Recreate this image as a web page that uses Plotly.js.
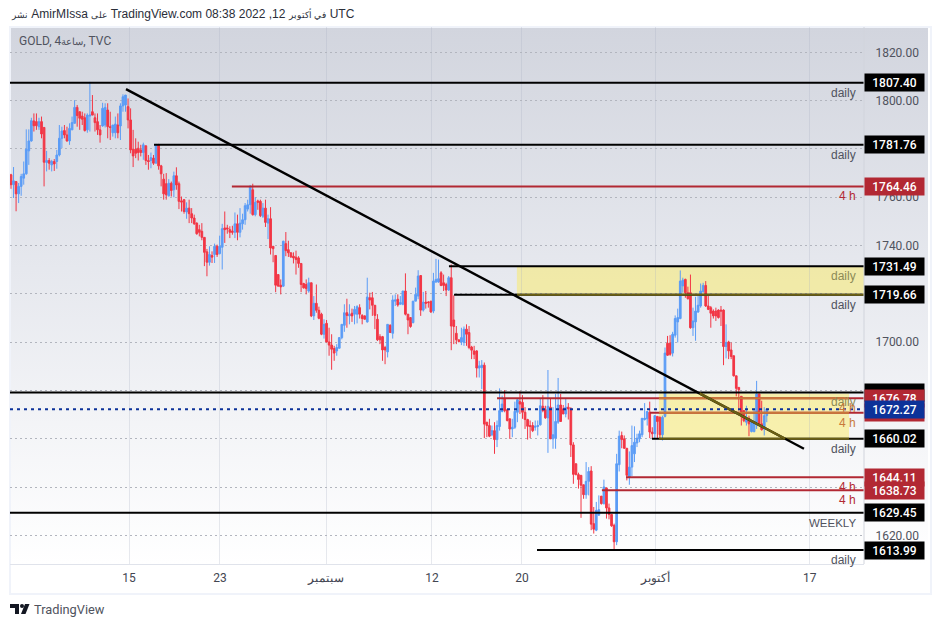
<!DOCTYPE html>
<html><head><meta charset="utf-8">
<script src="https://cdn.plot.ly/plotly-3.0.1.min.js"></script>
<style>
html,body{margin:0;padding:0;background:#fff;width:938px;height:627px;overflow:hidden}
#bg{position:absolute;left:9px;top:26px;width:919px;height:565px;border:2px solid #f0f3fa;box-sizing:content-box;background:linear-gradient(#fff,#fff)}
#grad{position:absolute;left:11px;top:28px;width:917px;height:536px;background:linear-gradient(#d2d5de 0%,#e6e8ee 45%,#ffffff 100%)}
#chart{position:absolute;left:0;top:0;width:938px;height:627px}
#logo{position:absolute;left:10px;top:604px}
</style></head><body>
<div id="bg"></div><div id="grad"></div><div id="chart"></div>
<svg id="logo" width="20" height="10" viewBox="0 0 20 10"><path d="M0 0h9v10h-4v-6h-5z" fill="#131722"/><circle cx="12" cy="2" r="2" fill="#131722"/><path d="M15 0h4.5l-4 10h-4.5z" fill="#131722"/></svg>
<script>
const opens=[1769.3,1765.2,1766.5,1761.4,1764.5,1767.9,1769.7,1779.2,1783.3,1791.6,
1791.3,1789.2,1791.3,1788.9,1774.4,1775.2,1773.4,1774.8,1774.8,1777.5,
1784.4,1787.6,1785.8,1783.3,1787.9,1790.6,1797.2,1795.4,1793.6,1792.9,
1787.9,1793.6,1795.4,1792.9,1791.3,1787.9,1789.5,1789.9,1796.1,1789.2,
1786.7,1786.7,1789.9,1789.5,1797.8,1798.2,1797.5,1792,1779.9,1779.9,
1780.3,1779.6,1778.5,1781.3,1775.2,1775.2,1776.2,1774.1,1781.7,1773,
1767.5,1765.6,1760.6,1765.8,1763.1,1768.9,1765.6,1758.5,1759,1753.9,
1755.5,1753.2,1751.4,1749.3,1746.6,1745.9,1743.4,1737.4,1733.1,1735.9,
1736.3,1739.7,1736.7,1739.3,1747.3,1747.3,1746.6,1746,1745.5,1749,
1745.5,1749,1750.7,1755.1,1756.9,1763.1,1752.8,1758.5,1758.3,1752.1,
1755.5,1749.3,1751.1,1739.7,1735.9,1728,1723.6,1723.2,1740.8,1738.3,
1737,1735.6,1735.2,1734.9,1732.6,1724.3,1723.9,1721.2,1724.6,1710.9,
1716.1,1713.2,1711.6,1703.3,1707.8,1700.1,1698.8,1697.4,1696.4,1697.5,
1701.9,1707,1712.2,1710.9,1712,1711.6,1711.6,1714.3,1711.1,1710.9,
1708.4,1718.4,1718.4,1715.3,1709.5,1702.3,1702.3,1697.8,1696,1707,
1703.7,1717,1717.8,1715.7,1715.7,1721.2,1711.6,1710.2,1708.1,1717,
1719.1,1727.6,1713.3,1716.6,1716.6,1717,1712.9,1724.9,1724.9,1728.7,
1724.6,1723.9,1721.6,1726.7,1709.2,1703.7,1701,1700.1,1699.9,1705.4,
1704,1698,1696.4,1696.4,1689.3,1689.5,1690.5,1666.9,1665.5,1661.7,
1663.4,1659.7,1665.1,1671.3,1676.5,1672,1668.3,1664.1,1664.8,1671,
1675.4,1675.1,1671,1668,1665.5,1665.5,1664.8,1665.1,1665.8,1673.5,
1672.1,1668.7,1673.1,1660,1660.3,1666.9,1674,1672.4,1670.3,1673.1,
1672.4,1657.5,1649.7,1645.2,1644.9,1641,1636.9,1642.4,1646.7,1624.9,
1622.2,1628.4,1636.3,1633.2,1639.7,1631.4,1628.7,1624.2,1617.4,1649.3,
1661.4,1660,1656.1,1644.2,1648.3,1653.8,1658.3,1660,1661.7,1668,
1668.3,1671,1662.8,1662.1,1669.3,1668.9,1661.7,1669.3,1699.6,1699.6,
1695.5,1702.9,1708.4,1709.8,1723.3,1726,1720.5,1720.5,1706,1708.4,
1712.5,1715,1720.9,1723.5,1715,1714.3,1712.9,1712.9,1713.3,1713.3,
1713.3,1698.2,1700.1,1696.8,1694.4,1686.1,1681.3,1677.6,1671.7,1666.9,
1668.5,1663,1663,1666.9,1678.6,1666.2,1664.1,1669.6];
const highs=[1769.7,1772.5,1766.5,1765.9,1769.7,1774.8,1788.1,1788.1,1792.9,1794.7,
1794.7,1792.9,1793.4,1788.9,1779.2,1776.2,1775.5,1775.8,1779.6,1789.9,
1789.2,1789.9,1789.2,1790.6,1793.4,1800.2,1798.2,1795.4,1795.4,1794.7,
1794.7,1807.8,1802.3,1794.7,1794.7,1789.9,1799.1,1798.9,1798.9,1795.4,
1789.9,1793.4,1794.7,1798.9,1802.6,1802.3,1800.9,1796.8,1787.9,1784.4,
1783,1781.7,1782.6,1781.3,1777.5,1778.5,1777.5,1782.1,1782.1,1773.4,
1769.7,1770,1767.5,1766.5,1770.6,1772.4,1766.5,1760.3,1759.2,1757.9,
1759,1755.5,1752.8,1749.6,1748.6,1749.3,1743.4,1738.6,1739.7,1737.6,
1740.8,1740.4,1744.1,1749,1754.1,1748.6,1748,1748.2,1753.7,1752.8,
1755.5,1753.2,1757.6,1759,1765.1,1765.6,1760,1759,1759,1757.6,
1759,1752.8,1755.9,1739.7,1735.9,1728,1726,1742,1745.6,1742,
1737.2,1737.2,1737.9,1735.6,1732.6,1724.6,1726,1726.7,1724.6,1719.1,
1723.9,1714.7,1712.2,1709.5,1709.2,1706,1703.3,1698.5,1699.2,1701.9,
1707.4,1715.7,1718,1715.7,1713.9,1715,1715.3,1715.7,1711.6,1711.1,
1726.7,1720.5,1720.8,1715.3,1711.6,1703.3,1702.6,1698.5,1707.4,1707.4,
1719.4,1719.8,1719.8,1719.1,1721.2,1728.5,1711.6,1710.2,1717,1722.6,
1729.8,1727.6,1720.8,1721.2,1717,1717,1728.7,1734.5,1734.2,1729.4,
1728,1724.6,1727.4,1732.2,1719.4,1706.7,1701,1706,1706.5,1707.4,
1706.7,1698.5,1698.5,1696.7,1692.3,1692.6,1691.6,1666.9,1668.3,1665.5,
1666.9,1667.6,1680.9,1677.9,1680.2,1672.4,1668.3,1668.3,1675.4,1676.5,
1679.7,1678.1,1673.1,1668.3,1667.6,1666.9,1667.6,1667.6,1676.5,1678.1,
1673.7,1688.5,1676.5,1673.1,1678.6,1685.2,1678.6,1674,1676.5,1674.8,
1673.1,1658.6,1649.7,1646,1644.9,1641,1650.4,1648.3,1648.7,1631.8,
1633.9,1636.6,1636.3,1643.1,1639.7,1633.2,1628.7,1624.9,1653.8,1663.4,
1663,1661.4,1656.1,1654.8,1665.5,1665.2,1662.1,1663.4,1668.5,1674.8,
1671.3,1675.4,1664.8,1669.6,1669.3,1669.3,1669.6,1697.8,1702.6,1702.9,
1704.3,1711.1,1713.9,1729.7,1726.7,1726.3,1723,1728,1714.3,1718.8,
1719.1,1724.3,1724.6,1725.3,1719.4,1715,1713.6,1714.3,1713.6,1715,
1713.6,1707.4,1700.6,1699.9,1694.4,1686.1,1681.3,1677.6,1671.7,1673.7,
1669.6,1667.5,1672.4,1684,1678.6,1675.8,1673.1,1672.6];
const lows=[1763.5,1759.7,1754.2,1757.6,1760.6,1765.2,1769.3,1773.4,1783,1787.2,
1787.9,1787.9,1784.4,1764.5,1770.7,1771.4,1770.7,1770.9,1771.8,1776.9,
1780.3,1784.4,1783,1781.7,1787.9,1790.6,1789.2,1787.9,1789.9,1787.2,
1786.7,1787.2,1794,1787.2,1785.8,1782.6,1789.2,1788.9,1784.4,1783.7,
1785.1,1784.4,1784.4,1783.7,1795.4,1795.4,1788.5,1778.2,1772.5,1776.2,
1775.2,1776.9,1775.5,1773.4,1771.4,1772,1773.4,1774.1,1771.4,1764.5,
1759,1759,1760.3,1760.3,1760,1763.1,1755.1,1754.1,1753.2,1751.1,
1749.3,1749.3,1748.6,1744.5,1743.8,1742.2,1731.5,1727.3,1731.7,1732.8,
1732.8,1735.3,1736.3,1730.1,1741.1,1744.9,1743.1,1744.5,1743.1,1742.2,
1743.4,1746.6,1748.6,1754.1,1753.2,1752.4,1752.1,1754.8,1751.8,1751.4,
1747.7,1742.7,1736.3,1733.1,1720.7,1723.2,1719.8,1722.9,1735.6,1735.3,
1734.9,1732.6,1728,1730.8,1720.7,1722.2,1719.8,1720.5,1710.4,1709.2,
1712.2,1709.5,1702.9,1701.5,1699.9,1694.4,1688.6,1692.3,1694.4,1697.5,
1701.2,1704.3,1706,1707.4,1708.4,1707.4,1707.8,1709.8,1707.4,1709.5,
1708.1,1713.6,1710.9,1705.4,1700.5,1699.2,1692.3,1690.9,1693.7,1704,
1701.5,1715,1714.7,1715.7,1715.3,1711.1,1703.3,1706,1707.8,1717,
1717.8,1710.9,1712.7,1713.9,1714.3,1712.2,1712,1724.6,1724.6,1723.2,
1721.2,1719.1,1721.2,1696.7,1699.2,1699.2,1699.9,1698.8,1698.5,1698.5,
1697.1,1693,1693,1685.4,1685.4,1680.6,1660.3,1660.7,1660.7,1661.1,
1653.8,1656.6,1663.4,1671,1671,1667.2,1660,1660.7,1664.1,1666.9,
1670.3,1668.3,1664.1,1659.7,1660.3,1662.8,1663.4,1661.4,1665.5,1671,
1668.3,1654.2,1660,1655.9,1655.9,1666.2,1667.2,1670.3,1668.9,1668,
1652.5,1641.4,1644.9,1639.4,1627.3,1635.2,1635.2,1636.6,1622.2,1620.8,
1621.8,1628.4,1632.8,1632.8,1627,1626.7,1623.6,1614,1616,1646.5,
1656.1,1655.9,1642.8,1641,1644.6,1650.4,1656.6,1658.6,1660.7,1667.6,
1665.5,1660.3,1660.3,1660.3,1660.3,1659.7,1659.3,1668.9,1694.4,1694.4,
1694.1,1701.9,1699.9,1709.5,1720.5,1718.4,1717.7,1705.6,1702.6,1700.6,
1712.2,1714.3,1720.5,1714.6,1713.3,1706,1709.8,1708.8,1709.8,1706.7,
1690.5,1693.3,1693,1693,1685.8,1677.6,1671.7,1665.5,1666.9,1665.5,
1661.1,1662.7,1662.7,1664.1,1665.5,1663.4,1661.4,1666.9];
const closes=[1765.2,1766.8,1761.4,1764.5,1768.6,1769.7,1779.9,1783.3,1791.7,1789.6,
1789.6,1791.3,1786.2,1774.5,1775.2,1774.1,1774.8,1773.8,1777.5,1784.4,
1787.4,1785.8,1783.3,1788.5,1790.9,1797.2,1793.8,1792.7,1792.3,1787.6,
1794,1794,1794,1790.9,1787.9,1785.8,1796.8,1797.2,1789.2,1788.9,
1789.9,1790.3,1786.7,1797.8,1801.6,1802.3,1792,1779.6,1777.1,1778.2,
1778.5,1778.5,1781.7,1775.2,1774.8,1776.4,1774.1,1781.7,1773,1769.7,
1761.4,1761,1765.8,1762.8,1768.9,1765.1,1758.3,1758,1754.1,1755.5,
1753.2,1751.4,1749,1744.9,1745.5,1743.4,1737.2,1733.1,1736.3,1735.2,
1739.7,1736.3,1739.7,1747,1746.6,1746.9,1745.5,1745.5,1749,1745.5,
1749.3,1750.7,1756.5,1756.9,1764.5,1752.8,1757.9,1757.9,1752.4,1755.5,
1749.6,1751.1,1739,1738.7,1723.6,1723.2,1722.9,1741.8,1737.9,1737,
1735.3,1734.9,1734.2,1732.6,1723.9,1722.5,1722.2,1724.6,1710.9,1716.1,
1713.2,1709.9,1703.3,1707.4,1700.1,1698.8,1697.1,1695.5,1697.8,1701.9,
1707.4,1712.2,1711.1,1711.6,1710.9,1713.6,1714.7,1711.6,1709.8,1709.5,
1718.7,1717.5,1715.3,1711.1,1701,1701,1696.8,1696.8,1707.4,1704,
1717.5,1717.5,1715.4,1716.4,1721.2,1711.6,1709.2,1706.5,1717,1719.8,
1727.4,1713.3,1716.6,1716.1,1716.4,1712.5,1725.3,1726,1726.3,1723.5,
1723.5,1721.6,1726.7,1706.7,1706.5,1701,1700.3,1701.9,1705.4,1703.3,
1697.8,1696.7,1695,1689.3,1690.2,1690.5,1666.1,1665.5,1661.1,1663.4,
1659.7,1665.5,1671.7,1674.4,1671.7,1667.6,1664.1,1664.8,1671.4,1676.2,
1674.4,1671,1668,1665.2,1665.1,1663.4,1665.2,1665.5,1673.7,1671.7,
1668.7,1673.5,1660,1661.7,1667.2,1674,1667.2,1670.3,1673.1,1672.4,
1657.5,1645.3,1645.2,1643.2,1640.8,1636.9,1642.4,1646.5,1624.7,1622.6,
1630.4,1630.7,1633.2,1640.1,1631.4,1628.7,1624,1617.4,1649.7,1661.1,
1659.7,1656.1,1644.9,1648.3,1657.2,1658.6,1660.3,1662.1,1668.5,1668.5,
1671.3,1662.8,1662.1,1669.6,1667.2,1661.7,1668.9,1695.5,1694.6,1695,
1703.3,1709.8,1710.2,1725.3,1725.7,1720.5,1718,1706,1708.8,1712.9,
1715.3,1721.2,1723.5,1715,1713.6,1712,1710.9,1710.9,1710.2,1712.9,
1698.2,1699.9,1696.4,1694.1,1686.1,1680.9,1680.3,1669.6,1667.5,1668.2,
1666.2,1666.9,1666.9,1678.6,1666.2,1663.8,1669.6,1672.27];

const levelPrices=[1807.40,1781.76,1764.46,1731.49,1719.66,1679.20,1660.02,1670.80,1676.78,1644.11,1638.73,1629.45,1613.99];
const levelStarts=[-0.39,56.2,86.8,172.1,174.1,-0.39,251.9,251.1,191,241.7,232.2,-0.39,206.7];
const levelColors=['#000000','#000000','#b22833','#000000','#000000','#000000','#000000','#b22833','#b22833','#b22833','#b22833','#000000','#000000'];
const levelNotes=['daily','daily','4 h','daily','daily','daily','daily','4 h','4 h','4 h','4 h','WEEKLY','daily'];
const lastPrice=1672.27;
const trendBars=[45.2,311.6];
const trendPrices=[1804.74,1655.9];
const tickBars=[46.4,82.1,123.8,165.4,200.8,253.4,313.9];
const tickTexts=['15','23','سبتمبر','12','20','أكتوبر','17'];
const priceTicks=[1620,1640,1660,1680,1700,1720,1740,1760,1780,1800,1820];
const priceTickTexts=['1620.00','','','','1700.00','','1740.00','1760.00','','1800.00','1820.00'];

const FONT='"Liberation Sans",Arial,sans-serif';
const RB='Roboto,"Liberation Sans",sans-serif';
const xMin=-0.39,xMax=335.2;
const bars=opens.map((_,i)=>i);
const px=v=>(v-10)/854, py=v=>(564-v)/537;
const tintBlack='#6a5f14', tintRed='#c8783a';
const zones=[{x0:198.8,x1:xMax,lo:1719.66,hi:1731.49},{x0:254.6,x1:329.3,lo:1660.02,hi:1678.8}];

const shapes=[];
zones.forEach(z=>shapes.push({type:'rect',layer:'below',xref:'x',yref:'y',x0:z.x0,x1:z.x1,y0:z.lo,y1:z.hi,
  fillcolor:'rgba(252,234,82,0.45)',line:{width:0}}));
const hline=(x0,x1,y,color,w,dash)=>({type:'line',layer:'above',xref:'x',yref:'y',x0,x1,y0:y,y1:y,line:{color,width:w,dash:dash||'solid'}});
levelPrices.forEach((p,i)=>{
  shapes.push(hline(levelStarts[i],xMax,p,levelColors[i],2));
  zones.forEach(z=>{ if(p>=z.lo&&p<z.hi){
    shapes.push(hline(Math.max(z.x0,levelStarts[i]),z.x1,p,levelColors[i]==='#000000'?tintBlack:tintRed,2));
  }});
});
shapes.push({type:'line',layer:'above',xref:'x',yref:'y',x0:trendBars[0],x1:trendBars[1],y0:trendPrices[0],y1:trendPrices[1],line:{color:'#000000',width:2.4}});
const slope=(trendPrices[1]-trendPrices[0])/(trendBars[1]-trendBars[0]);
const barAt=p=>trendBars[0]+(p-trendPrices[0])/slope;
shapes.push({type:'line',layer:'above',xref:'x',yref:'y',x0:barAt(zones[1].hi),x1:barAt(zones[1].lo),y0:zones[1].hi,y1:zones[1].lo,line:{color:tintBlack,width:2.4}});
shapes.push(hline(xMin,xMax,lastPrice,'#0c3299',2,'3px,4px'));
shapes.push({type:'line',layer:'above',xref:'paper',yref:'paper',x0:1,x1:1,y0:0,y1:1,line:{color:'#d1d4dc',width:1}});

const annotations=[];
const txt=(x,y,text,o)=>annotations.push(Object.assign({xref:'paper',yref:'paper',x:px(x),y:py(y),text,showarrow:false,xanchor:'left',yanchor:'middle',borderpad:0,
  font:{family:FONT,size:12,color:'#131722'}},o||{}));
const small=s=>'<span style="font-size:9px">'+s+'</span>';
txt(10,14,small('نشر')+' AmirMIssa '+small('على')+' TradingView.com 08:38 2022 ,12 '+small('في أكتوبر')+' UTC',{font:{family:FONT,size:12,color:'#2a2e39'}});
txt(18,41,'GOLD, 4'+'<span style="font-size:9.5px">ساعة</span>'+', TVC',{font:{family:RB,size:12,color:'#50535e'}});
txt(33,609,'TradingView',{font:{family:RB,size:12.8,color:'#50535e'}});
levelPrices.forEach((p,i)=>{
  const inZone=zones.some(z=>p>z.lo&&p<=z.hi+1&&z.x1>=329);
  const red=levelColors[i]!=='#000000';
  const color=red?(inZone?tintRed:'#b22833'):(inZone?'#8c8a56':'#50535e');
  annotations.push({xref:'paper',yref:'y',x:px(858),y:p,yshift:-10,text:levelNotes[i],showarrow:false,xanchor:'right',yanchor:'middle',
    font:{family:FONT,size:levelNotes[i]==='WEEKLY'?11.5:12,color}});
});
const priceLabel=(p,bg,text)=>annotations.push({xref:'paper',yref:'y',x:1,y:p,xanchor:'left',yanchor:'middle',showarrow:false,
  text:text,bgcolor:bg,width:59,height:17,borderpad:0,font:{family:RB,size:12,weight:500,color:'#ffffff'}});
levelPrices.forEach((p,i)=>priceLabel(p,levelColors[i]==='#000000'?'#000000':'#b22833',p===1679.20?' ':p.toFixed(2)));
priceLabel(lastPrice,'#0c3299',lastPrice.toFixed(2));

const trace={type:'candlestick',x:bars,open:opens,high:highs,low:lows,close:closes,whiskerwidth:0,hoverinfo:'skip',
  increasing:{line:{color:'#5b9cf6',width:1},fillcolor:'#5b9cf6'},
  decreasing:{line:{color:'#f23645',width:1},fillcolor:'#f23645'}};
const layout={width:938,height:627,margin:{l:10,r:74,t:27,b:63},paper_bgcolor:'rgba(0,0,0,0)',plot_bgcolor:'rgba(0,0,0,0)',showlegend:false,
  font:{family:FONT},shapes,annotations,boxgap:0.05,
  xaxis:{type:'linear',range:[xMin,xMax],tickmode:'array',tickvals:tickBars,ticktext:tickTexts,showgrid:true,gridcolor:'rgba(170,175,195,0.28)',gridwidth:1,
    zeroline:false,showline:true,linecolor:'#e0e3eb',linewidth:1,ticks:'outside',ticklen:3,tickcolor:'rgba(0,0,0,0)',tickfont:{family:RB,size:12,color:'#434651'},rangeslider:{visible:false},fixedrange:true},
  yaxis:{side:'right',range:[1608.2,1830.47],tickmode:'array',tickvals:priceTicks,ticktext:priceTickTexts,showgrid:true,gridcolor:'#b2b5be',griddash:'2px,3px',gridwidth:1,
    zeroline:false,showline:false,ticks:'outside',ticklen:8,tickcolor:'rgba(0,0,0,0)',tickfont:{family:RB,size:12,color:'#50535e'},fixedrange:true}};
Plotly.newPlot('chart',[trace],layout,{staticPlot:true,displayModeBar:false});
</script></body></html>
